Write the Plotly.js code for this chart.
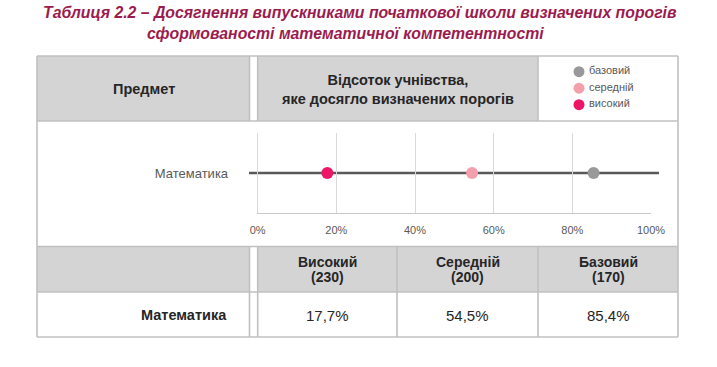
<!DOCTYPE html>
<html>
<head>
<meta charset="utf-8">
<script src="https://cdn.plot.ly/plotly-3.0.1.min.js"></script>
<style>html,body{margin:0;padding:0;background:#fff}#chart{width:717px;height:367px}</style>
</head>
<body>
<div id="chart"></div>
<script>
// ---- data ----
const subjects = ['Математика'];
const levels = ['високий', 'середній', 'базовий'];
const levelHeaders = ['Високий', 'Середній', 'Базовий'];
const thresholds = [230, 200, 170];
const mathValues = [17.7, 54.5, 85.4];
const levelColors = ['#EC1566', '#F4A0AC', '#999999'];
const xTicks = [0, 20, 40, 60, 80, 100];
const xTickText = ['0%', '20%', '40%', '60%', '80%', '100%'];
const titleLine1 = 'Таблиця 2.2 – Досягнення випускниками початкової школи визначених порогів';
const titleLine2 = 'сформованості математичної компетентності';
const headSubject = 'Предмет';
const headChart = 'Відсоток учнівства,<br>яке досягло визначених порогів';

// ---- geometry helpers (pixels -> paper) ----
const W = 717, H = 367;
const px = x => x / W;
const py = y => 1 - y / H;
const FF = 'Liberation Sans, Arial, sans-serif';

const border = '#c0c0c0';
const cellFill = '#d4d4d5';
const textDark = '#262626';
const textGray = '#595959';

const L = 37, R = 678, T = 56, B = 337;
const rHead = 121, rChart = 246.5, rTHead = 292;
const cA = 249.5, cB = 257.7, cC = 397, cD = 538;

const shapes = [];
function rect(x0, y0, x1, y1, fill) {
  shapes.push({type: 'rect', xref: 'paper', yref: 'paper', x0: px(x0), x1: px(x1), y0: py(y1), y1: py(y0),
    fillcolor: fill, line: {width: 0}, layer: 'below'});
}
function hline(y, x0, x1) {
  shapes.push({type: 'line', xref: 'paper', yref: 'paper', x0: px(x0), x1: px(x1), y0: py(y), y1: py(y),
    line: {color: border, width: 1.6}});
}
function vline(x, y0, y1) {
  shapes.push({type: 'line', xref: 'paper', yref: 'paper', x0: px(x), x1: px(x), y0: py(y0), y1: py(y1),
    line: {color: border, width: 1.6}});
}
rect(L, T, cA, rHead, cellFill);
rect(cB, T, cD, rHead, cellFill);
rect(L, rChart, cA, rTHead, cellFill);
rect(cB, rChart, cC, rTHead, cellFill);
rect(cC, rChart, cD, rTHead, cellFill);
rect(cD, rChart, R, rTHead, cellFill);
[T, rHead, rChart, rTHead, B].forEach(y => hline(y, L, R));
vline(L, T, B); vline(R, T, B);
vline(cA, T, rHead); vline(cB, T, rHead); vline(cD, T, rHead);
[cA, cB, cC, cD].forEach(x => vline(x, rChart, B));

// range line across the dot plot
shapes.push({type: 'line', xref: 'paper', yref: 'paper', x0: px(249), x1: px(659), y0: py(173), y1: py(173),
  line: {color: '#595959', width: 2.5}, layer: 'between'});

const fmt = v => v.toFixed(1).replace('.', ',') + '%';

const annotations = [];
function txt(text, x, y, opts) {
  annotations.push(Object.assign({text: text, xref: 'paper', yref: 'paper', x: px(x), y: py(y),
    xanchor: 'center', yanchor: 'middle', showarrow: false,
    font: {family: FF, size: 13, color: textDark}}, opts || {}));
}
txt(titleLine2, 145, 33, {xanchor: 'left', font: {family: FF, size: 15.8, color: '#9B1B4E', weight: 'bold', style: 'italic'}});
txt(headSubject, 143.5, 89, {font: {family: FF, size: 14.5, color: textDark, weight: 'bold'}});
txt(headChart, 397.5, 89.5, {font: {family: FF, size: 14.5, color: textDark, weight: 'bold'}});
const centers = [(cB + cC) / 2, (cC + cD) / 2, (cD + R) / 2];
levelHeaders.forEach((h, i) => {
  txt(h, centers[i], 262, {font: {family: FF, size: 14, color: textDark, weight: 'bold'}});
  txt('(' + thresholds[i] + ')', centers[i], 276.5, {font: {family: FF, size: 14, color: textDark, weight: 'bold'}});
  txt(fmt(mathValues[i]), centers[i], 315, {font: {family: FF, size: 15, color: textDark}});
});
txt(subjects[0], 229, 315, {xanchor: 'right', font: {family: FF, size: 14.5, color: textDark, weight: 'bold'}});

const traces = levels.map((lv, i) => ({
  type: 'scatter', mode: 'markers', name: lv,
  x: [mathValues[i]], y: subjects,
  marker: {color: levelColors[i], size: 12, line: {width: 0}},
  hoverinfo: 'skip', cliponaxis: false, showlegend: false
}));
// legend drawn as its own small subplot
traces.push({
  type: 'scatter', mode: 'markers', xaxis: 'x2', yaxis: 'y2',
  x: levels.map(() => 0), y: levels,
  marker: {color: levelColors, size: 11, line: {width: 0}},
  hoverinfo: 'skip', cliponaxis: false, showlegend: false
});
traces.push({
  type: 'scatter', mode: 'text', xaxis: 'x2', yaxis: 'y2',
  x: levels.map(() => 1.0), y: levels, text: levels, textposition: 'middle right',
  textfont: {family: FF, size: 11, color: textGray},
  hoverinfo: 'skip', cliponaxis: false, showlegend: false
});

const layout = {
  width: W, height: H,
  margin: {l: 0, r: 0, t: 0, b: 0},
  paper_bgcolor: '#ffffff', plot_bgcolor: 'rgba(0,0,0,0)',
  font: {family: FF, color: textGray},
  title: {text: titleLine1, x: px(43), xanchor: 'left', xref: 'paper', y: py(12), yanchor: 'middle', yref: 'paper',
    font: {family: FF, size: 15.8, color: '#9B1B4E', weight: 'bold', style: 'italic'}},
  xaxis: {domain: [px(257.7), px(651)], range: [0, 100], tickvals: xTicks, ticktext: xTickText,
    showgrid: true, gridcolor: '#d9d9d9', gridwidth: 1, zeroline: false,
    showline: true, linecolor: '#c8c8c8', linewidth: 1,
    ticks: 'outside', ticklen: 6, tickcolor: 'rgba(0,0,0,0)',
    tickfont: {family: FF, size: 11, color: textGray}, fixedrange: true},
  yaxis: {domain: [py(213.3), py(132.7)], type: 'category', range: [-0.5, 0.5],
    showgrid: false, zeroline: false, showline: true, linecolor: '#d9d9d9', linewidth: 1,
    ticks: 'outside', ticklen: 26, tickcolor: 'rgba(0,0,0,0)',
    tickfont: {family: FF, size: 13, color: textGray}, fixedrange: true},
  xaxis2: {domain: [px(573), px(673)], range: [-0.6, 9.4], visible: false, fixedrange: true, anchor: 'y2'},
  yaxis2: {domain: [py(112.95), py(63.45)], type: 'category', categoryarray: levels, categoryorder: 'array',
    range: [-0.5, 2.5], visible: false, fixedrange: true, anchor: 'x2'},
  showlegend: false,
  shapes: shapes,
  annotations: annotations
};

Plotly.newPlot('chart', traces, layout, {staticPlot: true, displayModeBar: false});
</script>
</body>
</html>
